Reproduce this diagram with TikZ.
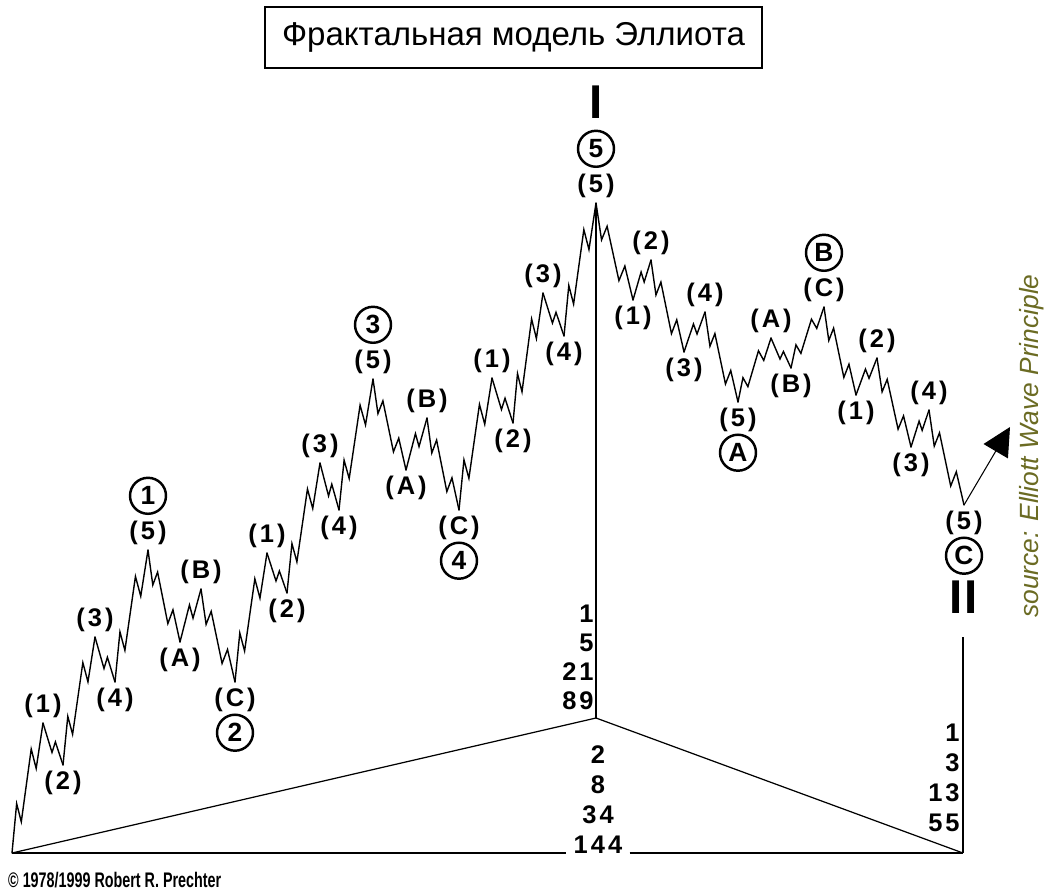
\documentclass[tikz,border=0pt]{standalone}
\usepackage{fontspec}
\setmainfont{Liberation Sans}
\newfontfamily\lblfont[LetterSpace=12]{Liberation Sans}
\usetikzlibrary{positioning,calc,arrows.meta}
\definecolor{srcolive}{RGB}{107,107,35}

\tikzset{
  wave/.style={line width=.8pt, line cap=round, line join=miter},
  axis/.style={line width=.7pt},
  wl/.style={font=\lblfont\bfseries\fontsize{14.5}{16}\selectfont, inner sep=0pt},
  num/.style={font=\lblfont\bfseries\fontsize{14.5}{16}\selectfont, inner sep=0pt},
  circ/.style={draw, circle, line width=1.4pt, inner sep=0pt, minimum size=.72cm,
    font=\bfseries\fontsize{15}{15}\selectfont},
  roman/.style={font=\bfseries\fontsize{27}{27}\selectfont, inner sep=0pt},
}

% small impulse (5 legs) and small zigzag (3 legs) between two pivots
\newcommand\fivewave[2]{\draw[wave] let \p1=(#1), \p2=(#2) in (\p1)
  -- ({\x1+.15*(\x2-\x1)},{\y1+.38*(\y2-\y1)})
  -- ({\x1+.30*(\x2-\x1)},{\y1+.24*(\y2-\y1)})
  -- ({\x1+.62*(\x2-\x1)},{\y1+.80*(\y2-\y1)})
  -- ({\x1+.78*(\x2-\x1)},{\y1+.65*(\y2-\y1)})
  -- (\p2);}
\newcommand\threewave[2]{\draw[wave] let \p1=(#1), \p2=(#2) in (\p1)
  -- ({\x1+.45*(\x2-\x1)},{\y1+.70*(\y2-\y1)})
  -- ({\x1+.62*(\x2-\x1)},{\y1+.45*(\y2-\y1)})
  -- (\p2);}

\begin{document}
\begin{tikzpicture}[x=0.02cm, y=-0.02cm]
    \useasboundingbox (0,0) rectangle (1055,890);

    \node[draw, line width=.7pt, minimum width=9.94cm, minimum height=1.22cm,
          font=\fontsize{18.8}{20}\selectfont] (title) at (513.5,37.5)
          {Фрактальная модель Эллиота};

    % pivots
    \coordinate (p0) at (12,853);
    \coordinate (a1) at (43,723);   \coordinate (a2) at (63,765);
    \coordinate (a3) at (95,637);   \coordinate (a4) at (115,682);
    \coordinate (a5) at (148,550);
    \coordinate (b1) at (180,642);  \coordinate (b2) at (201,589);
    \coordinate (b3) at (235,682);
    \coordinate (c1) at (267,553);  \coordinate (c2) at (287,593);
    \coordinate (c3) at (320,463);  \coordinate (c4) at (339,510);
    \coordinate (c5) at (373,379);
    \coordinate (d1) at (406,470);  \coordinate (d2) at (427,418);
    \coordinate (d3) at (459,510);
    \coordinate (e1) at (492,378);  \coordinate (e2) at (513,423);
    \coordinate (e3) at (543,293);  \coordinate (e4) at (564,336);
    \coordinate (e5) at (596,203);
    \coordinate (f1) at (633,300);  \coordinate (f2) at (651,260);
    \coordinate (f3) at (684,352);  \coordinate (f4) at (705,312);
    \coordinate (f5) at (738,402);
    \coordinate (g1) at (771,338);  \coordinate (g2) at (791,368);
    \coordinate (g3) at (824,307);
    \coordinate (h1) at (856,395);  \coordinate (h2) at (877,358);
    \coordinate (h3) at (911,447);  \coordinate (h4) at (929,410);
    \coordinate (h5) at (964,505);
    \coordinate (tip) at (1010,427);
    \coordinate (apex) at (596,718);
    \coordinate (q0) at (963,853);
    \coordinate (qtop) at (963,637);

    % the wave
    \foreach \wa/\wb in {p0/a1,a2/a3,a4/a5,a5/b1,b2/b3,b3/c1,c2/c3,c4/c5,c5/d1,d2/d3,
        d3/e1,e2/e3,e4/e5,e5/f1,f2/f3,f4/f5,f5/g1,g2/g3,g3/h1,h2/h3,h4/h5}
        \fivewave{\wa}{\wb};
    \foreach \wa/\wb in {a1/a2,a3/a4,b1/b2,c1/c2,c3/c4,d1/d2,e1/e2,e3/e4,f1/f2,f3/f4,
        g1/g2,h1/h2,h3/h4}
        \threewave{\wa}{\wb};
    \draw[line width=.6pt, -{Triangle[length=16pt,width=16pt]}] (h5) -- (tip);

    % labels
    \node[wl, above=3pt of a1] (la1) {(1)};
    \node[wl, below=3pt of a2] (la2) {(2)};
    \node[wl, above=3pt of a3] (la3) {(3)};
    \node[wl, below=3pt of a4] (la4) {(4)};
    \node[wl, above=3pt of a5] (la5) {(5)};
    \node[wl, below=3pt of b1] (lb1) {(A)};
    \node[wl, above=3pt of b2] (lb2) {(B)};
    \node[wl, below=3pt of b3] (lb3) {(C)};
    \node[wl, above=3pt of c1] (lc1) {(1)};
    \node[wl, below=3pt of c2] (lc2) {(2)};
    \node[wl, above=3pt of c3] (lc3) {(3)};
    \node[wl, below=3pt of c4] (lc4) {(4)};
    \node[wl, above=3pt of c5] (lc5) {(5)};
    \node[wl, below=3pt of d1] (ld1) {(A)};
    \node[wl, above=3pt of d2] (ld2) {(B)};
    \node[wl, below=3pt of d3] (ld3) {(C)};
    \node[wl, above=3pt of e1] (le1) {(1)};
    \node[wl, below=3pt of e2] (le2) {(2)};
    \node[wl, above=3pt of e3] (le3) {(3)};
    \node[wl, below=3pt of e4] (le4) {(4)};
    \node[wl, above=3pt of e5] (le5) {(5)};
    \node[wl, below=3pt of f1] (lf1) {(1)};
    \node[wl, above=3pt of f2] (lf2) {(2)};
    \node[wl, below=3pt of f3] (lf3) {(3)};
    \node[wl, above=3pt of f4] (lf4) {(4)};
    \node[wl, below=3pt of f5] (lf5) {(5)};
    \node[wl, above=3pt of g1] (lg1) {(A)};
    \node[wl, below=3pt of g2] (lg2) {(B)};
    \node[wl, above=3pt of g3] (lg3) {(C)};
    \node[wl, below=3pt of h1] (lh1) {(1)};
    \node[wl, above=3pt of h2] (lh2) {(2)};
    \node[wl, below=3pt of h3] (lh3) {(3)};
    \node[wl, above=3pt of h4] (lh4) {(4)};
    \node[wl, below=3pt of h5] (lh5) {(5)};

    \node[circ, above=3pt of la5] (w1) {1};
    \node[circ, below=1pt of lb3] (w2) {2};
    \node[circ, above=3pt of lc5] (w3) {3};
    \node[circ, below=1pt of ld3] (w4) {4};
    \node[circ, above=3pt of le5] (w5) {5};
    \node[circ, below=1pt of lf5] (wA) {A};
    \node[circ, above=3pt of lg3] (wB) {B};
    \node[circ, below=1pt of lh5] (wC) {C};
    \node[roman, above=6pt of w5] (rom1) {I};
    \node[roman, below=3pt of wC] (rom2) {I\kern1ptI};

    % Fibonacci counts
    \foreach \n [count=\i] in {1,5,21,89}
        \node[num, anchor=east] (ln\i) at (594,{585+29*\i}) {\n};
    \foreach \n [count=\i] in {2,8,34,144}
        \node[num] (mn\i) at (598,{725+30*\i}) {\n};
    \foreach \n [count=\i] in {1,3,13,55}
        \node[num, anchor=east] (rn\i) at (960,{703+30*\i}) {\n};

    \draw[axis] (e5) -- (apex);
    \draw[axis] (p0) -- (apex) -- (q0);
    \draw[axis] (qtop) -- (q0);
    \draw[axis, shorten >=4pt] (p0) -- (p0 -| mn4.west);
    \draw[axis, shorten <=4pt] (mn4.east |- q0) -- (q0);

    \node[rotate=90, text=srcolive, font=\itshape\fontsize{15}{15}\selectfont]
        (src) at (1032,446) {source: Elliott Wave Principle};
    \node[anchor=west, xscale=.68, inner sep=0pt, font=\bfseries\fontsize{12}{12}\selectfont]
        (copy) at (8,880) {\textcopyright{} 1978/1999 Robert R. Prechter};
\end{tikzpicture}
\end{document}
